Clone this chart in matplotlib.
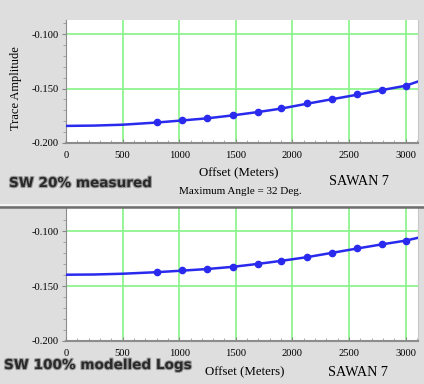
import matplotlib
matplotlib.use("Agg")
import matplotlib.pyplot as plt
from matplotlib.lines import Line2D
import matplotlib.patheffects as pe

# ---- data ----
marker_offsets = [800, 1025, 1250, 1475, 1700, 1900, 2125, 2350, 2575, 2790, 3000]
measured_amp = [-0.1806, -0.1787, -0.1771, -0.1744, -0.1713, -0.1682, -0.1636,
                -0.1595, -0.1553, -0.1512, -0.1475]
modelled_amp = [-0.1370, -0.1358, -0.1346, -0.1324, -0.1296, -0.1269, -0.1236,
                -0.1195, -0.1156, -0.1119, -0.1089]

curve_offsets = [0, 250, 500, 800, 1025, 1250, 1475, 1700, 1900, 2125, 2350,
                 2575, 2790, 3000, 3110]
measured_curve = [-0.1843, -0.1840, -0.1832, -0.1812, -0.1793, -0.1773, -0.1746,
                  -0.1715, -0.1684, -0.1640, -0.1598, -0.1556, -0.1514, -0.1474, -0.1435]
modelled_curve = [-0.1397, -0.1395, -0.1388, -0.1374, -0.1360, -0.1345, -0.1325,
                  -0.1298, -0.1271, -0.1238, -0.1198, -0.1158, -0.1121, -0.1087, -0.1061]

x_ticks = [0, 500, 1000, 1500, 2000, 2500, 3000]
y_ticks = [-0.200, -0.150, -0.100]
y_ticklabels = ["-0.200", "-0.150", "-0.100"]

BG = "#dedede"
GRID = "#86f486"
LINE = "#2a2aee"
serif = "Liberation Serif"

fig = plt.figure(figsize=(4.24, 3.84), dpi=100, facecolor=BG)

def make_panel(rect, ytop, curve, amp):
    ax = fig.add_axes(rect)
    ax.set_facecolor("white")
    ax.set_xlim(0, 3110)
    ax.set_ylim(-0.200, ytop)
    for x in x_ticks:
        ax.axvline(x, color=GRID, lw=1.2, zorder=1)
    for y in [-0.150, -0.100]:
        ax.axhline(y, color=GRID, lw=1.2, zorder=1)
    ax.plot(curve_offsets, curve, color=LINE, lw=1.8, zorder=3)
    ax.plot(marker_offsets, amp, "o", color=LINE, ms=4.5, zorder=4)
    ax.set_xticks(x_ticks)
    ax.set_xticks(range(0, 3101, 100), minor=True)
    ax.set_yticks(y_ticks)
    ax.set_yticklabels(y_ticklabels)
    ax.set_yticks([-0.2 + 0.01 * i for i in range(12)], minor=True)
    for lab in ax.get_xticklabels() + ax.get_yticklabels():
        lab.set_fontfamily(serif)
        lab.set_fontsize(7.6)
    ax.tick_params(axis="both", which="major", length=3, color="#888888", pad=2)
    ax.tick_params(axis="both", which="minor", length=2, color="#999999")
    ax.tick_params(axis="x", which="both", direction="in", pad=6)
    ax.spines["top"].set_visible(False)
    ax.spines["right"].set_color("#c8c8c8")
    ax.spines["bottom"].set_color("#8c8c8c")
    ax.spines["bottom"].set_linewidth(1.5)
    ax.spines["left"].set_color("#8c8c8c")
    return ax

ax1 = make_panel([66 / 424, 1 - 143 / 384, 352 / 424, 123 / 384], -0.087,
                 measured_curve, measured_amp)
ax1.set_ylabel("Trace Amplitude", fontfamily=serif, fontsize=9)
ax1.yaxis.set_label_coords(-0.125, 0.45)

ax2 = make_panel([66 / 424, 1 - 341 / 384, 352 / 424, 133 / 384], -0.079,
                 modelled_curve, modelled_amp)

def ft(x, y, s, **kw):
    fig.text(x / 424, 1 - y / 384, s, **kw)

shadow = [pe.withStroke(linewidth=1.6, foreground="#9a9a9a")]

ft(239, 173, "Offset (Meters)", fontfamily=serif, fontsize=9.3, ha="center", va="center")
ft(240, 192, "Maximum Angle = 32 Deg.", fontfamily=serif, fontsize=8, ha="center", va="center")
ft(359, 181, "SAWAN 7", fontfamily=serif, fontsize=10.2, ha="center", va="center")
ft(9, 183, "SW 20% measured", fontfamily="DejaVu Sans", fontweight="bold", fontsize=9.8,
   ha="left", va="center", color="#2a2a2a", path_effects=shadow)

ft(245, 372, "Offset (Meters)", fontfamily=serif, fontsize=9.3, ha="center", va="center")
ft(358, 372, "SAWAN 7", fontfamily=serif, fontsize=10.2, ha="center", va="center")
ft(4, 365, "SW 100% modelled Logs", fontfamily="DejaVu Sans", fontweight="bold", fontsize=9.8,
   ha="left", va="center", color="#2a2a2a", path_effects=shadow)

# separator between panels
fig.add_artist(Line2D([0, 1], [1 - 204.5 / 384] * 2, transform=fig.transFigure,
                      color="#f4f4f4", lw=1.5))
fig.add_artist(Line2D([0, 1], [1 - 206.5 / 384] * 2, transform=fig.transFigure,
                      color="#6e6e6e", lw=1.8))

fig.savefig("out.png", dpi=100, facecolor=BG)
